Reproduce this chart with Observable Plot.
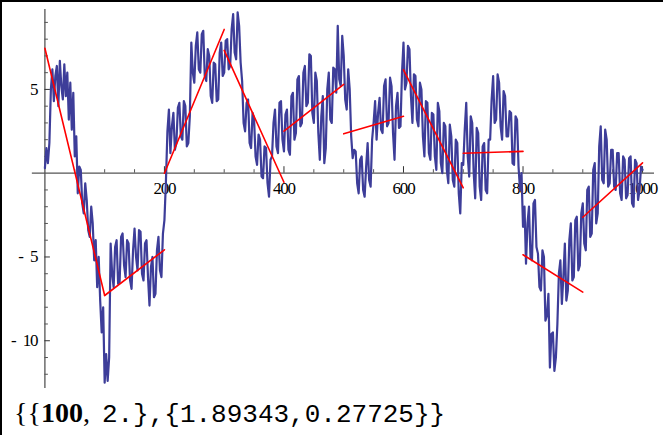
<!DOCTYPE html>
<html><head><meta charset="utf-8">
<script src="https://cdn.jsdelivr.net/npm/d3@7"></script>
<script src="https://cdn.jsdelivr.net/npm/@observablehq/plot@0.6"></script>
<style>
html,body{margin:0;padding:0;background:#fff;}
#wrap{position:relative;width:663px;height:435px;overflow:hidden;background:#fff;}
#chart{position:absolute;left:0;top:0;}
#chart text{letter-spacing:-1.2px;}
.bt{position:absolute;left:0;top:0;width:663px;height:2px;background:#000;}
.bl{position:absolute;left:0;top:0;width:2px;height:435px;background:#000;}
#out{position:absolute;left:14px;top:401px;white-space:pre;line-height:24px;color:#000;}
#out .s{font-family:"Liberation Serif",serif;font-size:28px;}
#out .b{font-family:"Liberation Serif",serif;font-size:28px;font-weight:bold;}
#out .m{font-family:"Liberation Mono",monospace;font-size:26px;margin-left:5px;}
</style></head>
<body>
<div id="wrap">
  <div id="chart"></div>
  <div class="bt"></div><div class="bl"></div>
  <div id="out"><span class="s">{{</span><span class="b">100</span><span class="s">, </span><span class="m">2.},{1.89343,0.27725}}</span></div>
</div>
<script>
// random-walk values, evenly spaced over x = 0..1000
const walk = [
  0.3, 1.5, 0.6, 1.8, 5.0, 6.2, 4.3, 5.8, 6.4, 4.0, 6.7, 5.2, 4.4, 6.5, 4.6, 6.0, 3.2, 5.4, 2.6, 4.8,
  1.0, 2.2, -1.2, 0.4, 0.2, -1.8, -2.4, -0.6, -1.6, -3.4, -3.8, -2.0, -3.0, -5.2, -4.0, -6.8, -5.0, -7.6, -9.5, -8.0,
  -12.5, -10.8, -12.4, -11.0, -4.2, -6.0, -6.8, -4.4, -4.0, -6.6, -6.5, -3.8, -3.6, -5.5, -6.2, -4.0, -4.2, -6.4, -6.9, -4.6,
  -3.3, -5.0, -5.8, -3.4, -3.5, -6.0, -6.4, -4.2, -4.0, -6.2, -7.9, -5.6, -5.0, -7.4, -7.2, -4.6, -3.8, -5.8, -6.2, -3.6,
  -2.8, -0.5, 2.5, 3.8, 1.2, 2.8, 3.6, 1.4, 1.8, 3.9, 4.2, 2.2, 2.0, 4.3, 4.0, 1.6, 1.8, 3.4, 7.8, 6.0,
  5.4, 7.6, 8.4, 6.2, 6.0, 8.3, 8.5, 5.8, 5.5, 7.4, 7.0, 4.6, 4.2, 6.6, 6.5, 4.3, 4.4, 7.2, 7.8, 5.8,
  6.0, 7.9, 8.0, 6.2, 6.4, 8.6, 9.5, 7.2, 6.8, 9.6, 8.8, 6.6, 5.5, 3.0, 2.5, 4.2, 4.4, 1.8, 1.5, 3.6,
  3.2, 1.0, 0.5, 2.3, 2.0, -0.2, -0.3, 1.6, 1.5, -0.6, -1.4, 0.8, 1.0, 3.0, 3.8, 1.6, 1.2, 4.2, 4.3, 2.0,
  1.3, 3.5, 3.8, 1.4, 1.1, 4.6, 4.8, 2.0, 2.4, 5.6, 5.8, 2.8, 3.0, 6.0, 6.4, 4.0, 4.2, 7.1, 7.0, 3.6,
  3.0, 6.0, 5.5, 2.4, 0.8, 3.4, 4.6, 0.6, 1.5, 5.0, 6.0, 3.2, 3.0, 6.3, 6.2, 4.8, 8.8, 5.6, 5.2, 8.2,
  7.0, 4.4, 3.8, 6.2, 5.0, 2.2, 0.9, 1.4, 1.3, -0.6, -1.2, 0.8, 1.0, -1.0, -1.4, 0.4, 1.8, -0.4, -0.8, 2.0,
  3.0, 4.3, 2.0, 3.6, 4.5, 2.6, 2.4, 5.2, 5.6, 2.8, 3.0, 5.7, 5.2, 2.4, 0.8, 4.0, 4.8, 2.7, 2.8, 6.0,
  7.8, 5.0, 5.4, 7.6, 7.4, 4.6, 3.0, 5.9, 5.8, 3.2, 2.8, 5.4, 5.0, 2.2, 1.0, 4.3, 4.2, 1.2, 0.8, 3.6,
  3.5, 1.0, 0.2, 4.2, 3.7, 0.6, 0.0, 3.0, 2.8, 0.2, -0.6, 2.9, 2.2, -0.4, -0.8, 2.0, 1.8, -1.2, -2.4, 0.6,
  0.5, 2.6, 4.2, 1.0, -0.2, 3.4, 3.0, 0.0, -1.5, 2.7, 2.4, -0.8, -1.6, 1.6, 1.8, -1.0, -1.2, 2.0, 2.0, 4.4,
  5.8, 3.0, 3.2, 5.9, 5.4, 2.8, 2.0, 4.9, 4.6, 2.2, 2.2, 3.7, 3.6, 0.6, 0.5, 3.4, 3.2, 0.4, -1.0, 0.0,
  -3.2, -2.0, -5.4, -3.0, -2.0, -5.0, -5.2, -1.8, -1.6, -4.4, -4.8, -6.8, -7.0, -4.6, -5.0, -8.8, -8.5, -7.2, -11.6, -9.6,
  -9.5, -11.8, -11.0, -9.0, -6.0, -5.2, -7.8, -6.2, -4.2, -7.6, -7.0, -4.0, -3.0, -6.4, -6.2, -2.8, -2.6, -5.8, -5.5, -2.4,
  -1.8, -4.2, -4.6, -1.0, -0.8, -3.8, -3.6, 0.2, 0.6, -3.0, -2.4, 1.6, 2.8, -0.4, -0.6, 2.6, 2.0, -0.8, -0.6, 1.4,
  1.4, -0.8, -1.0, 1.2, 1.2, -1.2, -1.6, 1.0, 0.8, -1.5, -1.3, 0.9, 1.0, -1.8, -2.0, 0.8, 0.6, -1.6, -1.0, 0.4,
  0.2
];
const xMax = 1000;
// linear fits per block of 100 points
const segStart = [0, 100, 200, 300, 400, 500, 600, 700, 800, 900];
const segEnd   = [100, 200, 300, 400, 500, 600, 700, 800, 900, 1000];
const fitStart = [7.46, -7.3, 0.0, 7.33, 2.51, 2.35, 6.17, 1.19, -4.87, -2.63];
const fitEnd   = [-7.3, -4.57, 8.58, -0.54, 5.3, 3.4, -0.87, 1.3, -7.1, 0.62];
// ticks
const xMajor = [200, 400, 600, 800, 1000];
const xMinor = [50, 100, 150, 250, 300, 350, 450, 500, 550, 650, 700, 750, 850, 900, 950];
const yMajor = [5, -5, -10];
const yMinor = [9, 8, 7, 6, 4, 3, 2, 1, -1, -2, -3, -4, -6, -7, -8, -9, -11, -12];

const fits = [];
segStart.forEach((s, i) => {
  fits.push({seg: i, t: s, v: fitStart[i]});
  fits.push({seg: i, t: segEnd[i], v: fitEnd[i]});
});
const step = xMax / (walk.length - 1);
const pts = walk.map((v, i) => ({t: i * step, v}));

const axisColor = "#555";
const chart = Plot.plot({
  width: 663, height: 395,
  marginLeft: 31.85, marginRight: 9, marginTop: 9, marginBottom: 7,
  x: {domain: [-21, 1020], axis: null},
  y: {domain: [-12.85, 9.77], axis: null},
  style: {background: "transparent", fontFamily: "'Liberation Serif', serif", fontSize: "17px", color: "#000"},
  marks: [
    Plot.ruleY([0], {stroke: axisColor, strokeWidth: 1.3}),
    Plot.ruleX([0], {stroke: axisColor, strokeWidth: 1.3}),
    Plot.ruleX(xMinor, {x: d => d, y1: 0, y2: 0, insetBottom: 3.5, stroke: axisColor}),
    Plot.ruleX(xMajor, {x: d => d, y1: 0, y2: 0, insetBottom: 6.5, stroke: "#333"}),
    Plot.ruleY(yMinor, {y: d => d, x1: 0, x2: 0, insetRight: -3.5, stroke: axisColor}),
    Plot.ruleY(yMajor, {y: d => d, x1: 0, x2: 0, insetRight: -5.5, stroke: "#333"}),
    Plot.text(xMajor, {x: d => d, y: 0, dy: 15, text: d => String(d), fill: "#000"}),
    Plot.text(yMajor, {x: 0, y: d => d, dx: -7.5, textAnchor: "end", fill: "#000",
      text: d => d < 0 ? "-\u2002" + (-d) : String(d)}),
    Plot.line(pts, {x: "t", y: "v", stroke: "#3d3d99", strokeWidth: 2.2, strokeLinejoin: "round"}),
    Plot.line(fits, {x: "t", y: "v", z: "seg", stroke: "#ff0000", strokeWidth: 1.6})
  ]
});
document.getElementById("chart").appendChild(chart);
</script>
</body></html>
